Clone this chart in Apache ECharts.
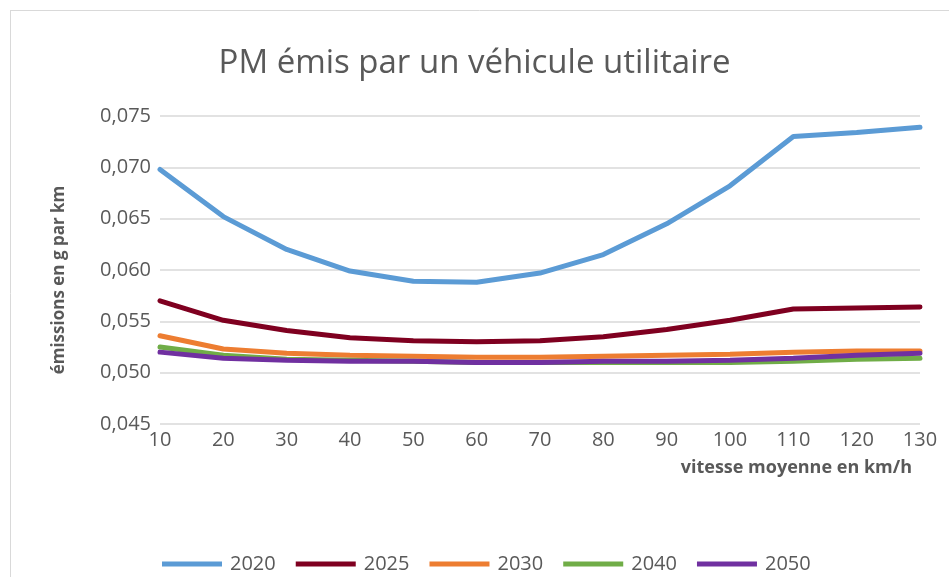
<!DOCTYPE html>
<html>
<head>
<meta charset="utf-8">
<script src="https://cdn.jsdelivr.net/npm/echarts@6/dist/echarts.min.js"></script>
<style>
  html, body { margin: 0; padding: 0; background: #fff; }
  #chart { width: 949px; height: 577px; }
</style>
</head>
<body>
<div id="chart"></div>
<script>
// vitesse moyenne (km/h)
var speeds = ["10", "20", "30", "40", "50", "60", "70", "80", "90", "100", "110", "120", "130"];
var years = ["2020", "2025", "2030", "2040", "2050"];
// émissions en g par km
var pm2020 = [0.0698, 0.0652, 0.0620, 0.0599, 0.0589, 0.0588, 0.0597, 0.0615, 0.0645, 0.0682, 0.0730, 0.0734, 0.0739];
var pm2025 = [0.0570, 0.0551, 0.0541, 0.0534, 0.0531, 0.0530, 0.0531, 0.0535, 0.0542, 0.0551, 0.0562, 0.0563, 0.0564];
var pm2030 = [0.0536, 0.0523, 0.0519, 0.0517, 0.0516, 0.0515, 0.0515, 0.0516, 0.0517, 0.0518, 0.0520, 0.0521, 0.0521];
var pm2040 = [0.0525, 0.0517, 0.0513, 0.0512, 0.0511, 0.0510, 0.0510, 0.0510, 0.0510, 0.0510, 0.0511, 0.0513, 0.0514];
var pm2050 = [0.0520, 0.0514, 0.0512, 0.0511, 0.0511, 0.0510, 0.0510, 0.0511, 0.0511, 0.0512, 0.0514, 0.0517, 0.0519];

var colors = ["#5B9BD5", "#7F0020", "#ED7D31", "#70AD47", "#7030A0"];
var allData = [pm2020, pm2025, pm2030, pm2040, pm2050];

var font = "Open Sans";
var chart = echarts.init(document.getElementById("chart"));

var series = years.map(function (y, i) {
  return {
    name: y,
    type: "line",
    data: allData[i],
    symbol: "none",
    lineStyle: { width: 5, color: colors[i], cap: "round" },
    itemStyle: { color: colors[i] },
    z: 2 + i
  };
});

chart.setOption({
  animation: false,
  color: colors,
  title: {
    text: "PM émis par un véhicule utilitaire",
    left: "center",
    top: 42,
    textStyle: { fontFamily: font, fontSize: 33, fontWeight: "normal", color: "#595959" }
  },
  graphic: [
    { type: "line", shape: { x1: 10, y1: 10.5, x2: 949, y2: 10.5 }, style: { stroke: "#d9d9d9", lineWidth: 1 } },
    { type: "line", shape: { x1: 10.5, y1: 10, x2: 10.5, y2: 577 }, style: { stroke: "#d9d9d9", lineWidth: 1 } }
  ],
  legend: {
    bottom: -2,
    left: 157,
    itemWidth: 60,
    itemHeight: 5,
    itemGap: 20,
    icon: "rect",
    data: years,
    textStyle: { fontFamily: font, fontSize: 20, color: "#595959", padding: [0, 0, 0, 3] }
  },
  grid: { left: 160, right: 29, top: 116, bottom: 153 },
  xAxis: {
    type: "category",
    data: speeds,
    boundaryGap: false,
    name: "vitesse moyenne en km/h",
    nameLocation: "end",
    nameGap: 0,
    nameTextStyle: {
      fontFamily: font, fontSize: 18, fontWeight: "bold", color: "#595959",
      align: "right", verticalAlign: "top", padding: [35, 8, 0, 0]
    },
    axisLine: { show: false },
    axisTick: { show: false },
    axisLabel: { fontFamily: font, fontSize: 20, color: "#595959", margin: 6 },
    splitLine: { show: false }
  },
  yAxis: {
    type: "value",
    min: 0.045,
    max: 0.075,
    interval: 0.005,
    name: "émissions en g par km",
    nameLocation: "middle",
    nameGap: 92,
    nameTextStyle: { fontFamily: font, fontSize: 17, fontWeight: "bold", color: "#595959", padding: [0, 20, 0, 0] },
    axisLine: { show: false },
    axisTick: { show: false },
    axisLabel: {
      fontFamily: font, fontSize: 20, color: "#595959", margin: 9,
      formatter: function (v) { return v.toFixed(3).replace(".", ","); }
    },
    splitLine: { lineStyle: { color: "#d9d9d9", width: 1.5 } }
  },
  series: series
});
</script>
</body>
</html>
